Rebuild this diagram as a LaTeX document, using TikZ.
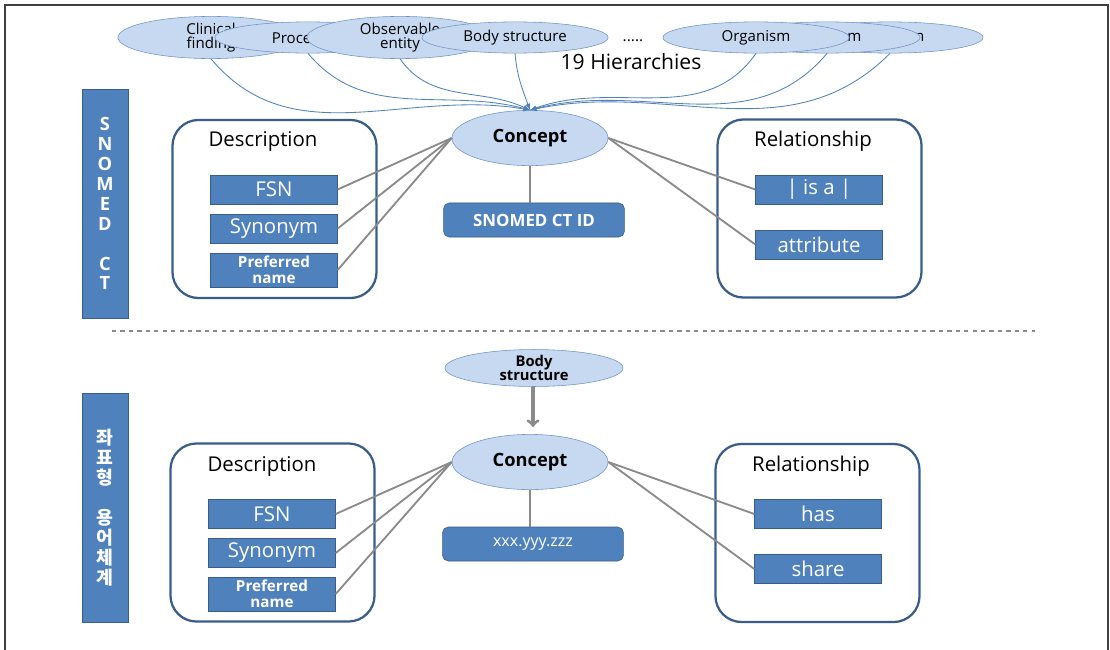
\documentclass[tikz,border=0pt]{standalone}
\usepackage{fontspec}
\setmainfont{Open Sans}
\newfontfamily\krfont{Noto Sans CJK KR}
\usetikzlibrary{arrows, shapes.geometric}

\definecolor{boxblue}{HTML}{4F81BD}
\definecolor{edgeblue}{HTML}{385D8A}
\definecolor{paleblue}{HTML}{C6D9F1}
\definecolor{ovalline}{HTML}{6F93C6}
\definecolor{linkgray}{HTML}{8A8A8A}

\tikzset{
  hier/.style={ellipse, draw=ovalline, fill=paleblue, inner sep=0pt,
    minimum width=4.65cm, minimum height=0.78cm, align=center,
    font=\fontsize{10.7}{10.5}\selectfont},
  concept/.style={ellipse, draw=ovalline, fill=paleblue, inner sep=0pt,
    minimum width=3.9cm, minimum height=1.38cm,
    font=\bfseries\fontsize{13}{14}\selectfont},
  group/.style={draw=edgeblue, line width=1.6pt, rounded corners=0.65cm,
    minimum width=5.1cm, minimum height=4.45cm},
  title/.style={font=\fontsize{14.5}{15}\selectfont},
  item/.style={draw=edgeblue, fill=boxblue, text=white, inner sep=0pt,
    minimum width=3.17cm, minimum height=0.73cm,
    font=\fontsize{14.5}{15}\selectfont},
  pref/.style={item, minimum height=0.85cm, align=center,
    font=\bfseries\fontsize{10.8}{11.5}\selectfont},
  idbox/.style={draw=edgeblue, fill=boxblue, text=white, rounded corners=4pt,
    inner sep=0pt, minimum width=4.52cm, minimum height=0.85cm},
  sidebar/.style={draw=edgeblue, fill=boxblue, text=white, inner sep=0pt,
    minimum width=1.15cm, minimum height=5.73cm, align=center,
    font=\bfseries\fontsize{13}{14.2}\selectfont},
  link/.style={draw=linkgray, line width=1.3pt},
  feed/.style={draw=boxblue, line width=0.6pt, -latex}
}

\begin{document}
\begin{tikzpicture}[x=0.025cm, y=-0.025cm]
  \useasboundingbox (0,0) rectangle (1110,650);
  \draw[line width=1.4pt, black!75] (5,650) -- (5,5) -- (1108,5) -- (1108,650);

  % 19 hierarchies
  \node[hier] (clin) at (211,37.5) {Clinical\\finding};
  \node[hier] (proc) at (308,37.5) {Procedure};
  \node[hier] (obs) at (400,37.5) {Observable\\entity};
  \node[hier] (body) at (515,37.5) {Body structure};
  \node[hier] (spec) at (890,37.5) {Specimen};
  \node[hier] (orgb) at (827,37.5) {Organism};
  \node[hier] (org) at (756,37.5) {Organism};
  \node (dots) at (633,41) {\fontsize{11}{11}\selectfont .....};
  \node (hnum) at (631,62) {\fontsize{15}{15}\selectfont 19 Hierarchies};

  % SNOMED CT
  \node[sidebar] (snomed) at (105,203.5) {S\\N\\O\\M\\E\\D\\[14.2pt]C\\T};
  \node[group] (desc) at (274.5,209) {};
  \node[title] (desct) at (263,141) {Description};
  \node[item] (fsn) at (274,189.5) {FSN};
  \node[item] (syn) at (274,228.5) {Synonym};
  \node[pref] (prefn) at (274,270) {Preferred\\name};
  \node[group] (rel) at (819.5,208.5) {};
  \node[title] (relt) at (813,141) {Relationship};
  \node[item] (isa) at (819,189.5) {| is a |};
  \node[item] (attr) at (819,244.5) {attribute};
  \node[concept] (con) at (530,138) {Concept};
  \node[idbox, font=\bfseries\fontsize{12}{13}\selectfont] (sid) at (534,220) {SNOMED CT ID};

  \draw[feed] (clin.south) to[out=-50,in=170] (con.north);
  \draw[feed] (proc.south) to[out=-50,in=165] (con.north);
  \draw[feed] (obs.south) to[out=-55,in=155] (con.north);
  \draw[feed] (body.south) to[out=-85,in=110] (con.north);
  \draw[feed] (org.south) to[out=-125,in=20] (con.north);
  \draw[feed] (orgb.south) to[out=-130,in=15] (con.north);
  \draw[feed] (spec.south) to[out=-135,in=12] (con.north);

  \draw[link] (con.west) -- (fsn.east);
  \draw[link] (con.west) -- (syn.east);
  \draw[link] (con.west) -- (prefn.east);
  \draw[link] (con.east) -- (isa.west);
  \draw[link] (con.east) -- (attr.west);
  \draw[link] (con.south) -- (sid.north -| con.south);

  \draw[dashed, linkgray, line width=0.9pt] (112,331) -- (1035,331);

  % coordinate terminology
  \node[sidebar, font=\krfont\bfseries\fontsize{13}{14.2}\selectfont] (kr) at (105,507.5)
    {좌\\표\\형\\[14.2pt]용\\어\\체\\계};
  \node[group] (desc2) at (272.5,532.5) {};
  \node[title] (desc2t) at (262,466) {Description};
  \node[item] (fsn2) at (272,514) {FSN};
  \node[item] (syn2) at (272,553) {Synonym};
  \node[pref] (pref2) at (272,594) {Preferred\\name};
  \node[group] (rel2) at (817.5,533) {};
  \node[title] (rel2t) at (811,466) {Relationship};
  \node[item] (has) at (818,514) {has};
  \node[item] (share) at (818,569) {share};
  \node[hier, minimum width=4.45cm, minimum height=0.75cm,
    font=\bfseries\fontsize{10.5}{10.5}\selectfont] (body2) at (534,368) {Body\\structure};
  \node[concept] (con2) at (530,462) {Concept};
  \node[idbox, font=\fontsize{11.4}{12}\selectfont] (xid) at (533,544) {xxx.yyy.zzz};

  \draw[linkgray, line width=2.2pt, ->] (body2.south -| 533,0) -- (533,427);
  \draw[link] (con2.west) -- (fsn2.east);
  \draw[link] (con2.west) -- (syn2.east);
  \draw[link] (con2.west) -- (pref2.east);
  \draw[link] (con2.east) -- (has.west);
  \draw[link] (con2.east) -- (share.west);
  \draw[link] (con2.south) -- (xid.north -| con2.south);
\end{tikzpicture}
\end{document}
